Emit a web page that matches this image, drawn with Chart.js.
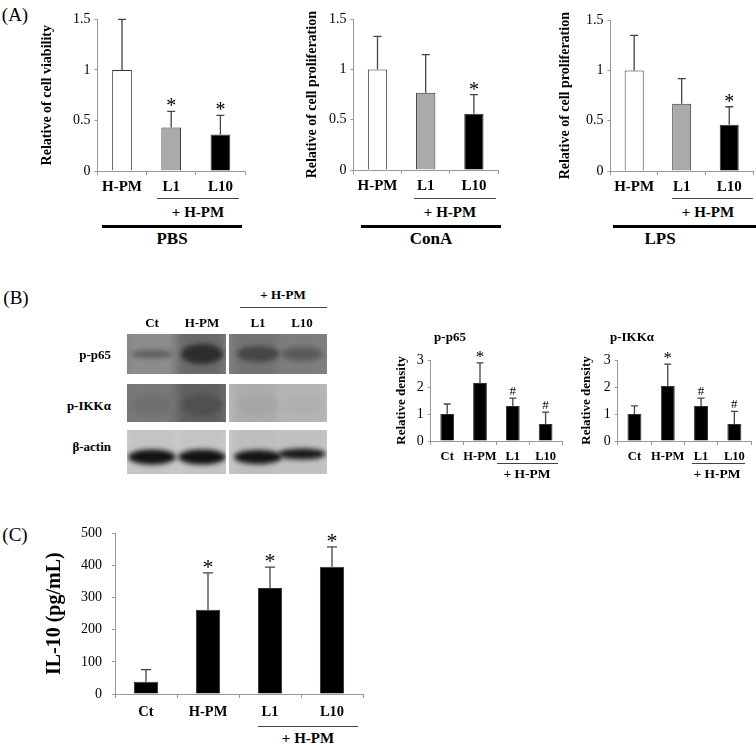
<!DOCTYPE html>
<html>
<head>
<meta charset="utf-8">
<script src="https://cdn.jsdelivr.net/npm/chart.js@4.4.0/dist/chart.umd.min.js"></script>
<style>
  body { margin: 0; background: #fff; }
  #fig { position: relative; width: 756px; height: 746px; overflow: hidden;
         font-family: 'Liberation Serif', 'Times New Roman', serif; color: #000; }
  .box { position: absolute; }
  .t { position: absolute; transform: translate(-50%, -50%); white-space: nowrap; font-weight: bold; }
  .r { transform: translate(-100%, -50%); }
  .ln { position: absolute; height: 1px; background: #444; }
  .thick { height: 3px; background: #000; }
</style>
</head>
<body>
<div id="fig"></div>
<script>
// ---- data ----
const groupLabels = ['H-PM', 'L1', 'L10'];
const groupFills = ['#ffffff', '#aaaaaa', '#000000'];

const viabilityMeans = [1.0, 0.43, 0.36];
const viabilityErr = [0.5, 0.16, 0.19];
const viabilityMarks = ['', '*', '*'];

const conaMeans = [1.0, 0.77, 0.56];
const conaErr = [0.33, 0.38, 0.19];
const conaMarks = ['', '', '*'];

const lpsMeans = [1.0, 0.67, 0.46];
const lpsErr = [0.35, 0.25, 0.18];
const lpsMarks = ['', '', '*'];

const laneLabels = ['Ct', 'H-PM', 'L1', 'L10'];

const p65Means = [1.0, 2.15, 1.3, 0.63];
const p65Err = [0.37, 0.74, 0.29, 0.44];
const p65Marks = ['', '*', '#', '#'];

const ikkMeans = [1.0, 2.04, 1.3, 0.63];
const ikkErr = [0.3, 0.81, 0.29, 0.47];
const ikkMarks = ['', '*', '#', '#'];

const il10Means = [38, 262, 330, 396];
const il10Err = [38, 115, 65, 62];
const il10Marks = ['', '*', '*', '*'];

// blot: grey level of each lane's smear and of its band (0-255)
const p65Lane = [140, 105, 115, 125];
const p65Band = [95, 45, 70, 90];
const ikkLane = [120, 95, 172, 180];
const ikkBand = [112, 80, 165, 175];
const actinLane = [196, 196, 190, 192];
const actinBand = [18, 18, 20, 25];

const SERIF = "'Liberation Serif', 'Times New Roman', serif";
const fig = document.getElementById('fig');

// error bars + significance marks
const errorBars = {
  id: 'errorBars',
  afterDatasetsDraw(chart, args, opts) {
    const ctx = chart.ctx;
    const y = chart.scales.y;
    const ds = chart.data.datasets[0];
    const meta = chart.getDatasetMeta(0);
    ctx.save();
    meta.data.forEach((bar, i) => {
      const top = y.getPixelForValue(ds.data[i] + opts.errs[i]);
      ctx.strokeStyle = '#444';
      ctx.lineWidth = 1.3;
      ctx.beginPath();
      ctx.moveTo(bar.x, bar.y);
      ctx.lineTo(bar.x, top);
      ctx.moveTo(bar.x - opts.cap, top);
      ctx.lineTo(bar.x + opts.cap, top);
      ctx.stroke();
      const m = opts.marks[i];
      if (m) {
        ctx.fillStyle = '#000';
        ctx.textAlign = 'center';
        ctx.textBaseline = 'alphabetic';
        if (m === '*') {
          ctx.font = opts.starSize + 'px ' + SERIF;
          ctx.fillText(m, bar.x, top + opts.starOff);
        } else {
          ctx.font = opts.hashSize + 'px ' + SERIF;
          ctx.fillText(m, bar.x, top - 3);
        }
      }
    });
    ctx.restore();
  }
};

function barChart(c) {
  const titleLine = c.titleSize * 1.2;
  const left = c.titleX - titleLine / 2;
  const top = c.plotTop - c.pt;
  const width = c.plotRight - left + 2;
  const height = c.pt + (c.plotBottom - c.plotTop) + c.xh;
  const div = document.createElement('div');
  div.className = 'box';
  div.style.left = left + 'px';
  div.style.top = top + 'px';
  const cv = document.createElement('canvas');
  cv.width = width;
  cv.height = height;
  div.appendChild(cv);
  fig.appendChild(div);

  return new Chart(cv.getContext('2d'), {
    type: 'bar',
    data: {
      labels: c.labels,
      datasets: [{
        data: c.means,
        backgroundColor: c.fills,
        borderColor: '#333',
        borderWidth: 1,
        barPercentage: c.barPct,
        categoryPercentage: 1
      }]
    },
    options: {
      responsive: false,
      animation: false,
      layout: { padding: { top: c.pt, right: 2, left: 0, bottom: 0 } },
      scales: {
        x: {
          afterFit: s => { s.height = c.xh; },
          border: { color: '#999', width: 1 },
          grid: { drawOnChartArea: false, tickLength: 4, color: '#999' },
          ticks: { color: '#000', padding: c.xPad, maxRotation: 0, minRotation: 0, autoSkip: false,
                   font: { family: SERIF, size: c.xSize, weight: 'bold' } }
        },
        y: {
          min: 0,
          max: c.max,
          afterFit: s => { s.width = c.axisX - left; },
          border: { color: '#999', width: 1 },
          grid: { drawOnChartArea: false, tickLength: 3, color: '#999' },
          ticks: { stepSize: c.step, color: '#000', padding: c.yPad, callback: v => String(v),
                   font: { family: SERIF, size: c.tickSize } },
          title: {
            display: true, text: c.title, color: '#000', padding: 0,
            font: { family: SERIF, size: c.titleSize, weight: 'bold' }
          }
        }
      },
      plugins: {
        legend: { display: false },
        tooltip: { enabled: false },
        errorBars: { errs: c.errs, marks: c.marks, cap: c.cap, starSize: c.starSize, starOff: c.starOff, hashSize: 13 }
      }
    },
    plugins: [errorBars]
  });
}

// panel A
const aCommon = { labels: groupLabels, fills: groupFills, titleSize: 14, tickSize: 14, xSize: 15,
  pt: 12, xh: 26, xPad: 3, yPad: 4, max: 1.5, step: 0.5, barPct: 0.4, cap: 4, starSize: 20, starOff: 1 };
barChart(Object.assign({}, aCommon, { title: 'Relative of cell viability', titleX: 47, axisX: 97,
  plotTop: 19, plotBottom: 171, plotRight: 245, means: viabilityMeans, errs: viabilityErr, marks: viabilityMarks }));
barChart(Object.assign({}, aCommon, { title: 'Relative of cell proliferation', titleX: 312, axisX: 353,
  plotTop: 19, plotBottom: 170, plotRight: 498, means: conaMeans, errs: conaErr, marks: conaMarks }));
barChart(Object.assign({}, aCommon, { title: 'Relative of cell proliferation', titleX: 565, axisX: 610,
  plotTop: 20, plotBottom: 171, plotRight: 753, means: lpsMeans, errs: lpsErr, marks: lpsMarks }));

// panel B densities
const bCommon = { labels: laneLabels, fills: '#000', title: 'Relative density', titleSize: 13, tickSize: 14,
  xSize: 12.5, pt: 18, xh: 24, xPad: 4, yPad: 4, max: 3, step: 1, barPct: 0.42, cap: 3.5, starSize: 17, starOff: -1 };
barChart(Object.assign({}, bCommon, { titleX: 402, axisX: 431, plotTop: 360, plotBottom: 441, plotRight: 563,
  means: p65Means, errs: p65Err, marks: p65Marks }));
barChart(Object.assign({}, bCommon, { titleX: 587, axisX: 618, plotTop: 360, plotBottom: 441, plotRight: 752,
  means: ikkMeans, errs: ikkErr, marks: ikkMarks }));

// panel C
barChart({ labels: laneLabels, fills: '#000', title: 'IL-10 (pg/mL)', titleSize: 20, titleX: 55, tickSize: 14,
  xSize: 14.5, pt: 18, xh: 28, xPad: 6, yPad: 10, max: 500, step: 100, barPct: 0.39, cap: 5, starSize: 22, starOff: 1,
  axisX: 115, plotTop: 533, plotBottom: 694, plotRight: 363, means: il10Means, errs: il10Err, marks: il10Marks });

// western blot picture
(function drawBlot() {
  const div = document.createElement('div');
  div.className = 'box';
  div.style.left = '120px';
  div.style.top = '325px';
  const cv = document.createElement('canvas');
  cv.width = 215; cv.height = 155;
  div.appendChild(cv);
  fig.appendChild(div);
  const ctx = cv.getContext('2d');
  const panels = [[7, 99], [109, 98]];
  const lanes = [32, 82, 138, 182];
  const grey = g => 'rgb(' + g + ',' + g + ',' + g + ')';
  const rows = [
    { y: 9, h: 40, lane: p65Lane, band: p65Band, cy: 29, bh: [8, 20, 16, 14], bw: 21 },
    { y: 59, h: 38, lane: ikkLane, band: ikkBand, cy: 80, bh: [22, 22, 20, 20], bw: 20 },
    { y: 105, h: 44, lane: actinLane, band: actinBand, cy: 132, bh: [15, 15, 14, 11], bw: 24 }
  ];
  rows.forEach((row, ri) => {
    panels.forEach((p, pi) => {
      ctx.save();
      ctx.beginPath();
      ctx.rect(p[0], row.y, p[1], row.h);
      ctx.clip();
      // background from the two lanes in this panel
      const l0 = lanes[pi * 2], l1 = lanes[pi * 2 + 1];
      const bg = Math.round((row.lane[pi * 2] + row.lane[pi * 2 + 1]) / 2);
      ctx.fillStyle = grey(Math.min(255, bg + 8));
      ctx.fillRect(p[0], row.y, p[1], row.h);
      ctx.filter = 'blur(4px)';
      [l0, l1].forEach((lx, k) => {
        const li = pi * 2 + k;
        ctx.fillStyle = grey(row.lane[li]);
        ctx.fillRect(lx - 24, row.y - 10, 46, row.h + 20);
      });
      ctx.filter = 'blur(2.5px)';
      [l0, l1].forEach((lx, k) => {
        const li = pi * 2 + k;
        ctx.fillStyle = grey(row.band[li]);
        const cy = (ri === 2 && li === 3) ? row.cy - 3 : row.cy;
        ctx.beginPath();
        ctx.ellipse(lx, cy, row.bw, row.bh[li] / 2, 0, 0, Math.PI * 2);
        ctx.fill();
      });
      ctx.restore();
    });
  });
})();

// text and bracket lines
function txt(s, x, y, size, cls, weight) {
  const d = document.createElement('div');
  d.className = 't' + (cls ? ' ' + cls : '');
  d.textContent = s;
  d.style.left = x + 'px';
  d.style.top = y + 'px';
  d.style.fontSize = size + 'px';
  if (weight) d.style.fontWeight = weight;
  fig.appendChild(d);
}
function line(x1, x2, y, thick) {
  const d = document.createElement('div');
  d.className = 'ln' + (thick ? ' thick' : '');
  d.style.left = x1 + 'px';
  d.style.width = (x2 - x1) + 'px';
  d.style.top = y + 'px';
  fig.appendChild(d);
}

txt('(A)', 15, 15, 19, '', 'normal');
txt('(B)', 16, 298, 19, '', 'normal');
txt('(C)', 15, 535, 19, '', 'normal');

// panel A brackets
[[157, 239, 198, 102, 242, 172, 'PBS'], [414, 496, 450, 361, 501, 431, 'ConA'], [672, 753, 708, 613, 756, 660, 'LPS']]
  .forEach(b => {
    line(b[0], b[1], 198);
    txt('+ H-PM', b[2], 212, 15);
    line(b[3], b[4], 225, true);
    txt(b[6], b[5], 239, 17);
  });

// panel B blot labels
txt('+ H-PM', 283, 295, 13);
line(240, 327, 307);
[['Ct', 152], ['H-PM', 202], ['L1', 258], ['L10', 302]].forEach(l => txt(l[0], l[1], 323, 13));
txt('p-p65', 111, 355, 13, 'r');
txt('p-IKK\u03b1', 111, 406, 13, 'r');
txt('\u03b2-actin', 111, 447, 13, 'r');
txt('p-p65', 450, 337, 13);
txt('p-IKK\u03b1', 632, 337, 13);
line(497, 558, 463);
txt('+ H-PM', 527, 474, 13.5);
line(692, 745, 463);
txt('+ H-PM', 717, 474, 13.5);

// panel C bracket
line(258, 358, 726);
txt('+ H-PM', 308, 738, 15);
</script>
</body>
</html>
